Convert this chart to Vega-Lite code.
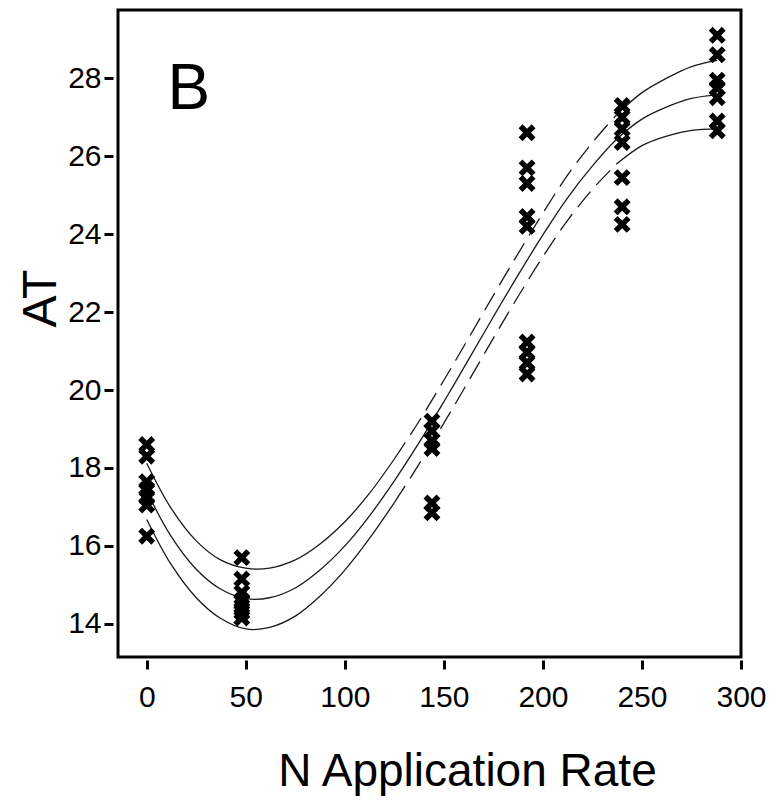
{
  "$schema": "https://vega.github.io/schema/vega-lite/v6.json",
  "width": 623,
  "height": 647,
  "autosize": {"type": "none"},
  "padding": {"left": 118, "top": 10, "right": 32, "bottom": 143},
  "background": "white",
  "config": {
    "view": {"stroke": "black", "strokeWidth": 3},
    "font": "Liberation Sans",
    "axis": {"grid": false, "labelColor": "black", "titleColor": "black", "tickColor": "black", "titleFontWeight": "normal", "labelFont": "Liberation Sans", "titleFont": "Liberation Sans"}
  },
  "datasets": {
    "obs": [
      {"N": 0, "AT": 18.6}, {"N": 0, "AT": 18.3}, {"N": 0, "AT": 17.65}, {"N": 0, "AT": 17.45}, {"N": 0, "AT": 17.25}, {"N": 0, "AT": 17.05}, {"N": 0, "AT": 16.25},
      {"N": 48, "AT": 15.7}, {"N": 48, "AT": 15.15}, {"N": 48, "AT": 14.8}, {"N": 48, "AT": 14.6}, {"N": 48, "AT": 14.45}, {"N": 48, "AT": 14.3}, {"N": 48, "AT": 14.15},
      {"N": 144, "AT": 19.2}, {"N": 144, "AT": 18.95}, {"N": 144, "AT": 18.7}, {"N": 144, "AT": 18.5}, {"N": 144, "AT": 17.1}, {"N": 144, "AT": 16.85},
      {"N": 192, "AT": 26.6}, {"N": 192, "AT": 25.7}, {"N": 192, "AT": 25.3}, {"N": 192, "AT": 24.45}, {"N": 192, "AT": 24.2}, {"N": 192, "AT": 21.23}, {"N": 192, "AT": 20.97}, {"N": 192, "AT": 20.7}, {"N": 192, "AT": 20.41},
      {"N": 240, "AT": 27.3}, {"N": 240, "AT": 27.0}, {"N": 240, "AT": 26.7}, {"N": 240, "AT": 26.35}, {"N": 240, "AT": 25.45}, {"N": 240, "AT": 24.7}, {"N": 240, "AT": 24.25},
      {"N": 288, "AT": 29.1}, {"N": 288, "AT": 28.6}, {"N": 288, "AT": 27.95}, {"N": 288, "AT": 27.75}, {"N": 288, "AT": 27.5}, {"N": 288, "AT": 26.9}, {"N": 288, "AT": 26.65}
    ],
    "fit": [
      {"N": 0, "fit": 17.40, "lower": 16.68, "upper": 18.12},
      {"N": 12, "fit": 16.27, "lower": 15.55, "upper": 16.99},
      {"N": 25, "fit": 15.40, "lower": 14.67, "upper": 16.13},
      {"N": 37, "fit": 14.90, "lower": 14.15, "upper": 15.65},
      {"N": 50, "fit": 14.65, "lower": 13.87, "upper": 15.43},
      {"N": 62, "fit": 14.67, "lower": 13.91, "upper": 15.43},
      {"N": 75, "fit": 14.92, "lower": 14.20, "upper": 15.64},
      {"N": 87, "fit": 15.36, "lower": 14.69, "upper": 16.03},
      {"N": 100, "fit": 16.00, "lower": 15.38, "upper": 16.62},
      {"N": 112, "fit": 16.74, "lower": 16.16, "upper": 17.32},
      {"N": 125, "fit": 17.67, "lower": 17.11, "upper": 18.23},
      {"N": 137, "fit": 18.61, "lower": 18.06, "upper": 19.16},
      {"N": 150, "fit": 19.70, "lower": 19.15, "upper": 20.25},
      {"N": 162, "fit": 20.74, "lower": 20.19, "upper": 21.29},
      {"N": 175, "fit": 21.88, "lower": 21.33, "upper": 22.43},
      {"N": 187, "fit": 22.91, "lower": 22.36, "upper": 23.46},
      {"N": 200, "fit": 23.98, "lower": 23.42, "upper": 24.54},
      {"N": 212, "fit": 24.90, "lower": 24.32, "upper": 25.48},
      {"N": 225, "fit": 25.75, "lower": 25.15, "upper": 26.35},
      {"N": 237, "fit": 26.42, "lower": 25.79, "upper": 27.05},
      {"N": 250, "fit": 26.95, "lower": 26.27, "upper": 27.63},
      {"N": 262, "fit": 27.25, "lower": 26.51, "upper": 27.99},
      {"N": 275, "fit": 27.48, "lower": 26.66, "upper": 28.30},
      {"N": 288, "fit": 27.58, "lower": 26.70, "upper": 28.46}
    ]
  },
  "layer": [
    {
      "data": {"name": "fit"},
      "mark": {"type": "line", "interpolate": "catmull-rom", "color": "#1a1a1a", "strokeWidth": 1.3},
      "encoding": {
        "x": {"field": "N", "type": "quantitative", "scale": {"domain": [-14.5, 300], "nice": false, "zero": false},
          "axis": {"values": [0, 50, 100, 150, 200, 250, 300], "offset": 3, "domain": false, "tickSize": 9, "tickWidth": 3, "labelFontSize": 30, "labelPadding": 13, "labelFlush": false,
            "title": "N Application Rate", "titleFontSize": 46, "titleX": 349, "titleY": 125, "titleBaseline": "alphabetic", "titleAlign": "center"}},
        "y": {"field": "fit", "type": "quantitative", "scale": {"domain": [13.15, 29.75], "nice": false, "zero": false},
          "axis": {"values": [14, 16, 18, 20, 22, 24, 26, 28], "offset": 5, "domain": false, "tickSize": 9, "tickWidth": 3, "labelFontSize": 30, "labelPadding": 3, "labelFlush": false,
            "title": "AT", "titleFontSize": 48, "titleAngle": -90, "titleX": -58, "titleY": 288, "titleBaseline": "alphabetic", "titleAlign": "center"}}
      }
    },
    {
      "data": {"name": "fit"},
      "transform": [
        {"filter": "datum.N <= 125"},
        {"fold": ["lower", "upper"], "as": ["bound", "value"]}
      ],
      "mark": {"type": "line", "interpolate": "catmull-rom", "color": "#1a1a1a", "strokeWidth": 1.3},
      "encoding": {
        "x": {"field": "N", "type": "quantitative"},
        "y": {"field": "value", "type": "quantitative"},
        "detail": {"field": "bound"}
      }
    },
    {
      "data": {"name": "fit"},
      "transform": [
        {"filter": "datum.N >= 125 && datum.N <= 237"},
        {"fold": ["lower", "upper"], "as": ["bound", "value"]}
      ],
      "mark": {"type": "line", "interpolate": "catmull-rom", "color": "#1a1a1a", "strokeWidth": 1.3, "strokeDash": [20, 9]},
      "encoding": {
        "x": {"field": "N", "type": "quantitative"},
        "y": {"field": "value", "type": "quantitative"},
        "detail": {"field": "bound"}
      }
    },
    {
      "data": {"name": "fit"},
      "transform": [
        {"filter": "datum.N >= 237"},
        {"fold": ["lower", "upper"], "as": ["bound", "value"]}
      ],
      "mark": {"type": "line", "interpolate": "catmull-rom", "color": "#1a1a1a", "strokeWidth": 1.3},
      "encoding": {
        "x": {"field": "N", "type": "quantitative"},
        "y": {"field": "value", "type": "quantitative"},
        "detail": {"field": "bound"}
      }
    },
    {
      "data": {"name": "obs"},
      "mark": {"type": "point", "shape": "M-1,-1L1,1M-1,1L1,-1", "filled": false, "stroke": "black", "strokeWidth": 5.5, "size": 170, "opacity": 1},
      "encoding": {
        "x": {"field": "N", "type": "quantitative"},
        "y": {"field": "AT", "type": "quantitative"}
      }
    },
    {
      "data": {"values": [{"label": "B"}]},
      "mark": {"type": "text", "align": "left", "baseline": "alphabetic", "fontSize": 64, "font": "Liberation Sans", "color": "black"},
      "encoding": {
        "x": {"datum": 10.5, "type": "quantitative"},
        "y": {"datum": 27.2, "type": "quantitative"},
        "text": {"field": "label"}
      }
    }
  ]
}
